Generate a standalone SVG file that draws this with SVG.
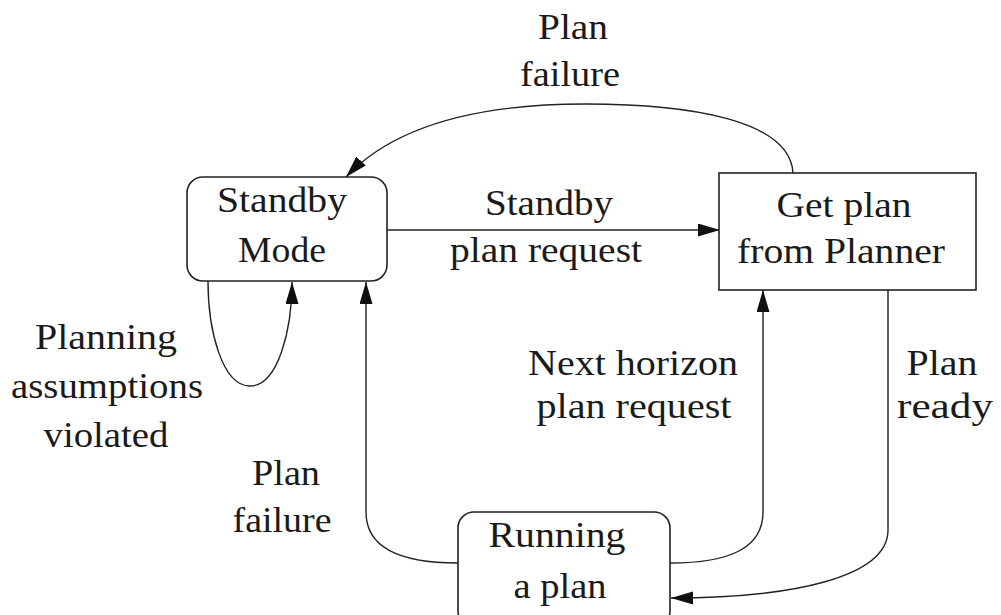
<svg xmlns="http://www.w3.org/2000/svg" width="1001" height="615" viewBox="0 0 1001 615">
<style>
text{font-family:"Liberation Serif","Times New Roman",serif;font-size:36px;fill:#1a1a1a;text-anchor:middle}
.box{fill:#fff;stroke:#222;stroke-width:1.6}
.edge{fill:none;stroke:#222;stroke-width:1.4}
</style>
<defs>
<marker id="ah" markerUnits="userSpaceOnUse" markerWidth="24" markerHeight="14" refX="22" refY="6.5" orient="auto">
<path d="M0,0 L22,6.5 L0,13 z" fill="#111"/>
</marker>
</defs>
<rect width="1001" height="615" fill="#fff"/>
<g id="connectors">
<path class="edge" marker-end="url(#ah)" d="M387,230 L720,230"/>
<path class="edge" marker-end="url(#ah)" d="M793,173 C790,120 690,104 585,104 C470,104 392,128 346,177"/>
<path class="edge" marker-end="url(#ah)" d="M208,281 C208,330 222,386 250,386 C278,386 292,330 292,282"/>
<path class="edge" marker-end="url(#ah)" d="M458,563 C400,563 366,548 366,512 L366,282"/>
<path class="edge" marker-end="url(#ah)" d="M670,563 C730,563 763,548 763,512 L763,290"/>
<path class="edge" marker-end="url(#ah)" d="M888,290 L888,530 C888,578 790,598 671,598"/>
</g>
<g id="standby">
<rect class="box" x="187" y="177" width="200" height="104" rx="16"/>
<text x="282" y="212" textLength="130" lengthAdjust="spacingAndGlyphs">Standby</text>
<text x="282" y="262" textLength="88" lengthAdjust="spacingAndGlyphs">Mode</text>
</g>
<g id="getplan">
<rect class="box" x="719" y="173" width="257" height="117"/>
<text x="844" y="217" textLength="135" lengthAdjust="spacingAndGlyphs">Get plan</text>
<text x="841" y="263" textLength="208" lengthAdjust="spacingAndGlyphs">from Planner</text>
</g>
<g id="running">
<rect class="box" x="458" y="512" width="212" height="115" rx="16"/>
<text x="557" y="547" textLength="137" lengthAdjust="spacingAndGlyphs">Running</text>
<text x="560" y="598" textLength="93" lengthAdjust="spacingAndGlyphs">a plan</text>
</g>
<g id="labels">
<text x="573" y="39" textLength="70" lengthAdjust="spacingAndGlyphs">Plan</text>
<text x="570" y="86" textLength="100" lengthAdjust="spacingAndGlyphs">failure</text>
<text x="549" y="215" textLength="128" lengthAdjust="spacingAndGlyphs">Standby</text>
<text x="546" y="262" textLength="192" lengthAdjust="spacingAndGlyphs">plan request</text>
<text x="106" y="349" textLength="142" lengthAdjust="spacingAndGlyphs">Planning</text>
<text x="107" y="398" textLength="192" lengthAdjust="spacingAndGlyphs">assumptions</text>
<text x="106" y="447" textLength="125" lengthAdjust="spacingAndGlyphs">violated</text>
<text x="633" y="375" textLength="210" lengthAdjust="spacingAndGlyphs">Next horizon</text>
<text x="634" y="418" textLength="195" lengthAdjust="spacingAndGlyphs">plan request</text>
<text x="942" y="375" textLength="71" lengthAdjust="spacingAndGlyphs">Plan</text>
<text x="945" y="418" textLength="96" lengthAdjust="spacingAndGlyphs">ready</text>
<text x="286" y="485" textLength="68" lengthAdjust="spacingAndGlyphs">Plan</text>
<text x="282" y="532" textLength="99" lengthAdjust="spacingAndGlyphs">failure</text>
</g>
</svg>
